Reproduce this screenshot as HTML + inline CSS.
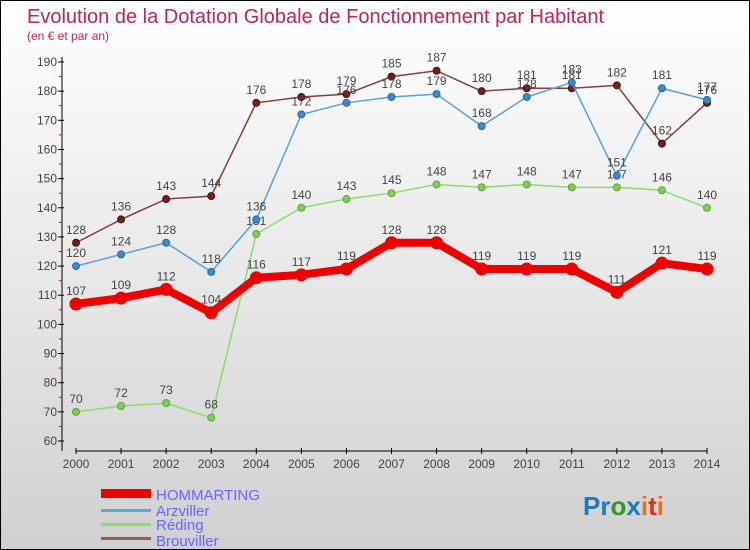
<!DOCTYPE html>
<html><head><meta charset="utf-8"><style>
body{margin:0}
#c{width:750px;height:550px;position:relative;box-sizing:border-box;border:1px solid #000;background:linear-gradient(#fff 0%,#e8e8e8 50%,#d0d0d0 100%);font-family:"Liberation Sans",sans-serif;overflow:hidden}
</style></head><body>
<div id="c">
<svg id="s" width="750" height="550" style="position:absolute;left:0;top:0">
<text x="26" y="22" font-size="20" fill="#b8285a">Evolution de la Dotation Globale de Fonctionnement par Habitant</text>
<text x="26" y="39" font-size="12" fill="#b8285a">(en € et par an)</text>
<g id="axes"></g><g id="series"></g>
<g>
<rect x="100" y="488" width="50" height="9" fill="#e00"/>
<text x="155" y="499" font-size="15" fill="#66f">HOMMARTING</text>
<rect x="100" y="508" width="50" height="3" fill="#6aa0cc"/>
<text x="155" y="515" font-size="15" fill="#66f">Arzviller</text>
<rect x="100" y="522" width="50" height="3" fill="#90d870"/>
<text x="155" y="529" font-size="15" fill="#66f">Réding</text>
<rect x="100" y="536" width="50" height="3" fill="#906060"/>
<text x="155" y="545" font-size="15" fill="#66f">Brouviller</text>
</g>
<g font-size="26" font-weight="bold">
<text x="582" y="514"><tspan fill="#1a7ac8">Pr</tspan><tspan fill="#2a9a2a">o</tspan><tspan fill="#1a7ac8">x</tspan><tspan fill="#f07010">i</tspan><tspan fill="#e03010">t</tspan><tspan fill="#f07010">i</tspan></text>
</g>
</svg>
</div>
<script>
const years=[2000,2001,2002,2003,2004,2005,2006,2007,2008,2009,2010,2011,2012,2013,2014];
const yTicks=[60,70,80,90,100,110,120,130,140,150,160,170,180,190];
const hommarting=[107,109,112,104,116,117,119,128,128,119,119,119,111,121,119];
const arzviller=[120,124,128,118,136,172,176,178,179,168,178,183,151,181,177];
const reding=[70,72,73,68,131,140,143,145,148,147,148,147,147,146,140];
const brouviller=[128,136,143,144,176,178,179,185,187,180,181,181,182,162,176];
const NS="http://www.w3.org/2000/svg";
function X(i){return 75+i*(706-75)/(years.length-1);}
function Y(v){return 440-(v-60)*(440-61)/130;}
function mk(t,a,p){const e=document.createElementNS(NS,t);for(const k in a)e.setAttribute(k,a[k]);p.appendChild(e);return e;}
const ax=document.getElementById('axes');
mk('line',{x1:61,y1:56,x2:61,y2:450,stroke:'#000'},ax);
mk('line',{x1:75,y1:450,x2:706,y2:450,stroke:'#000'},ax);
yTicks.forEach(v=>{
  mk('line',{x1:57,y1:Y(v),x2:63,y2:Y(v),stroke:'#000'},ax);
  if(v<190)mk('line',{x1:58,y1:Y(v+5),x2:61,y2:Y(v+5),stroke:'#e00'},ax);
  const t=mk('text',{x:56,y:Y(v)+4,'font-size':12,fill:'#444','text-anchor':'end'},ax);
  
  
  t.textContent=v;
});
years.forEach((yr,i)=>{
  mk('line',{x1:X(i),y1:447,x2:X(i),y2:453,stroke:'#000'},ax);
  const t=mk('text',{x:X(i),y:467,'font-size':12,fill:'#444','text-anchor':'middle'},ax);
  
  
  t.textContent=yr;
});
const sg=document.getElementById('series');
function draw(name,data,color,w,r,dot,stroke){
  const g=mk('g',{},sg);
  
  
  const pl=mk('polyline',{points:data.map((v,i)=>X(i)+','+Y(v)).join(' '),fill:'none',stroke:color,'stroke-width':w,'stroke-linejoin':'round'},g);
  
  
  data.forEach((v,i)=>{
    const c=mk('circle',{cx:X(i),cy:Y(v),r:r,fill:dot,stroke:stroke,'stroke-width':1},g);
    
    
    const t=mk('text',{x:X(i),y:Y(v)-9,'font-size':12,fill:'#444','text-anchor':'middle'},g);
    
    
    t.textContent=v;
  });
}
draw('reding',reding,'#90d870',1.5,3.5,'#80d050','#60a040');
draw('brouviller',brouviller,'#804040',1.5,3.5,'#702020','#501010');
draw('arzviller',arzviller,'#5aa0d8',1.5,3.5,'#3a8ad0','#2a6aa0');
draw('hommarting',hommarting,'#e00',8,6,'#e00','#e00');
</script>
</body></html>
